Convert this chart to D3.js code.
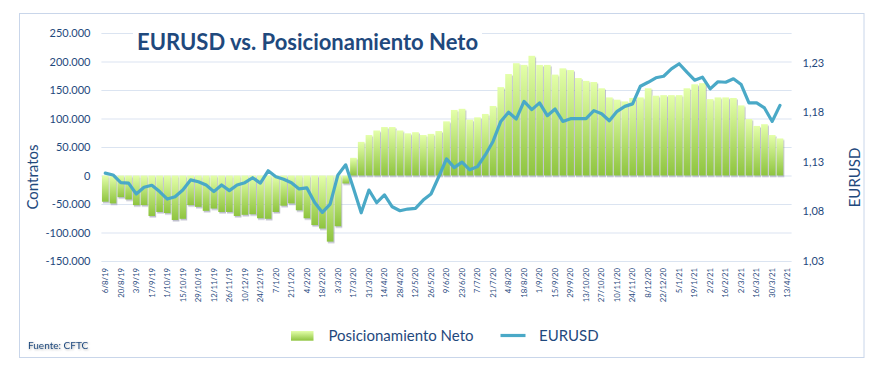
<!DOCTYPE html>
<html>
<head>
<meta charset="utf-8">
<script src="https://cdn.jsdelivr.net/npm/d3@7"></script>
<style>
  body { margin: 0; background: #fff; }
  text { font-family: Lato, "Open Sans", sans-serif; }
</style>
</head>
<body>
<svg id="chart" width="891" height="377"></svg>
<script>
// weekly COT dates (last one has no data)
const fechas = [
  "6/8/19","13/8/19","20/8/19","27/8/19","3/9/19","10/9/19","17/9/19","24/9/19","1/10/19","8/10/19",
  "15/10/19","22/10/19","29/10/19","5/11/19","12/11/19","19/11/19","26/11/19","3/12/19","10/12/19","17/12/19",
  "24/12/19","31/12/19","7/1/20","14/1/20","21/1/20","28/1/20","4/2/20","11/2/20","18/2/20","25/2/20",
  "3/3/20","10/3/20","17/3/20","24/3/20","31/3/20","7/4/20","14/4/20","21/4/20","28/4/20","5/5/20",
  "12/5/20","19/5/20","26/5/20","2/6/20","9/6/20","16/6/20","23/6/20","30/6/20","7/7/20","14/7/20",
  "21/7/20","28/7/20","4/8/20","11/8/20","18/8/20","25/8/20","1/9/20","8/9/20","15/9/20","22/9/20",
  "29/9/20","6/10/20","13/10/20","20/10/20","27/10/20","3/11/20","10/11/20","17/11/20","24/11/20","1/12/20",
  "8/12/20","15/12/20","22/12/20","29/12/20","5/1/21","12/1/21","19/1/21","26/1/21","2/2/21","9/2/21",
  "16/2/21","23/2/21","2/3/21","9/3/21","16/3/21","23/3/21","30/3/21","6/4/21","13/4/21"
];

const posicionamiento = [
  -46000, -49000, -38000, -42000, -52000, -52000, -71000, -64000, -66000, -78000,
  -76000, -52000, -55000, -62000, -58000, -64000, -64000, -71000, -69000, -68000,
  -75000, -76000, -64000, -53000, -49000, -61000, -75000, -87000, -93000, -116000,
  -89000, -14000, 31000, 59000, 71000, 79000, 85000, 85000, 79000, 74000,
  76000, 71000, 73000, 78000, 95000, 115000, 117000, 98000, 102000, 108000,
  122000, 155000, 178000, 197000, 194000, 210000, 194000, 194000, 177000, 188000,
  185000, 171000, 166000, 164000, 153000, 137000, 133000, 130000, 136000, 137000,
  153000, 140000, 141000, 141000, 141000, 153000, 160000, 162000, 134000, 137000,
  137000, 136000, 123000, 99000, 87000, 90000, 71000, 65000
];

const eurusd = [
  1.1186, 1.1168, 1.1090, 1.1085, 1.0976, 1.1044, 1.1064, 1.1000, 1.0925, 1.0948,
  1.1016, 1.1118, 1.1100, 1.1067, 1.1000, 1.1067, 1.1010, 1.1067, 1.1090, 1.1140,
  1.1085, 1.1210, 1.1150, 1.1125, 1.1090, 1.1027, 1.1037, 1.0890, 1.0790, 1.0874,
  1.1168, 1.1270, 1.1034, 1.0786, 1.1016, 1.0888, 1.0966, 1.0847, 1.0807, 1.0824,
  1.0831, 1.0915, 1.0976, 1.1150, 1.1330, 1.1242, 1.1297, 1.1220, 1.1252, 1.1370,
  1.1506, 1.1708, 1.1800, 1.1733, 1.1910, 1.1827, 1.1895, 1.1766, 1.1833, 1.1708,
  1.1736, 1.1736, 1.1736, 1.1817, 1.1786, 1.1715, 1.1810, 1.1860, 1.1885, 1.2063,
  1.2103, 1.2148, 1.2164, 1.2239, 1.2290, 1.2205, 1.2124, 1.2154, 1.2037, 1.2108,
  1.2103, 1.2138, 1.2080, 1.1895, 1.1895, 1.1844, 1.1708, 1.1870
];

const ticksContratos = [-150000, -100000, -50000, 0, 50000, 100000, 150000, 200000, 250000];
const ticksEurusd = [1.03, 1.08, 1.13, 1.18, 1.23];

const azul = "#1f497d";
const plotLeft = 101.4, plotRight = 791.6, plotTop = 33, plotBottom = 261;

const svg = d3.select("#chart");

const defs = svg.append("defs");
const grad = defs.append("linearGradient")
  .attr("id", "verde").attr("x1", 0).attr("y1", 0).attr("x2", 0).attr("y2", 1);
grad.append("stop").attr("offset", "0%").attr("stop-color", "#e4ffaa");
grad.append("stop").attr("offset", "100%").attr("stop-color", "#8ec43f");

defs.append("filter").attr("id", "sombra")
  .attr("x", "-20%").attr("y", "-20%").attr("width", "160%").attr("height", "160%")
  .append("feDropShadow")
  .attr("dx", 1).attr("dy", 1.5).attr("stdDeviation", 0.7)
  .attr("flood-color", "#6f6f90").attr("flood-opacity", 0.45);

defs.append("filter").attr("id", "sombraTexto")
  .append("feDropShadow")
  .attr("dx", 0.8).attr("dy", 0.8).attr("stdDeviation", 0.8)
  .attr("flood-color", "#000").attr("flood-opacity", 0.35);

// outer frame
svg.append("rect")
  .attr("x", 19.5).attr("y", 13.5).attr("width", 844.5).attr("height", 344)
  .attr("fill", "#fff").attr("stroke", "#c9d6ea").attr("stroke-width", 1);

const x = d3.scaleBand()
  .domain(fechas)
  .range([plotLeft, plotRight])
  .paddingInner(0.14)
  .paddingOuter(0.07);

const y = d3.scaleLinear().domain([-150000, 250000]).range([plotBottom, plotTop]);
const y2 = d3.scaleLinear().domain([1.03, 1.26]).range([plotBottom, plotTop]);

const loc = d3.formatLocale({ decimal: ",", thousands: ".", grouping: [3], currency: ["", "€"], minus: "-" });
const fmtContratos = loc.format(",d");
const fmtEurusd = loc.format(".2f");

// gridlines
const grid = svg.append("g")
  .attr("transform", `translate(${plotLeft},0)`)
  .call(d3.axisLeft(y).tickValues(ticksContratos).tickSize(-(plotRight - plotLeft)).tickFormat(""));
grid.select(".domain").remove();
grid.selectAll("line").attr("stroke", "#dbe4f1").attr("stroke-width", 1.2);

// bars
svg.append("g")
  .attr("filter", "url(#sombra)")
  .selectAll("rect")
  .data(posicionamiento)
  .join("rect")
  .attr("x", (d, i) => x(fechas[i]))
  .attr("width", x.bandwidth())
  .attr("y", d => y(Math.max(0, d)))
  .attr("height", d => Math.abs(y(d) - y(0)))
  .attr("fill", "url(#verde)");

// EURUSD line
const linea = d3.line()
  .x((d, i) => x(fechas[i]) + x.bandwidth() / 2)
  .y(d => y2(d));

svg.append("path")
  .datum(eurusd)
  .attr("d", linea)
  .attr("fill", "none")
  .attr("stroke", "#4aa9c7")
  .attr("stroke-width", 3.2)
  .attr("stroke-linejoin", "round")
  .attr("stroke-linecap", "round");

// axes
const ejeIzq = svg.append("g")
  .attr("transform", `translate(${plotLeft},0)`)
  .call(d3.axisLeft(y).tickValues(ticksContratos).tickFormat(fmtContratos).tickSize(0).tickPadding(11));
ejeIzq.select(".domain").remove();
ejeIzq.selectAll("text").attr("fill", azul).style("font-size", "11px");

const ejeDer = svg.append("g")
  .attr("transform", `translate(${plotRight},0)`)
  .call(d3.axisRight(y2).tickValues(ticksEurusd).tickFormat(fmtEurusd).tickSize(0).tickPadding(11));
ejeDer.select(".domain").remove();
ejeDer.selectAll("text").attr("fill", azul).style("font-size", "11px");

const ejeX = svg.append("g")
  .attr("transform", `translate(0,${plotBottom})`)
  .call(d3.axisBottom(x).tickValues(fechas.filter((d, i) => i % 2 === 0)).tickSize(0));
ejeX.select(".domain").remove();
ejeX.selectAll("text")
  .attr("fill", azul)
  .style("font-size", "7.8px")
  .style("text-anchor", "end")
  .attr("x", -7).attr("y", 0).attr("dy", "0.35em")
  .attr("transform", "rotate(-90)");

// axis titles
svg.append("text")
  .attr("transform", "translate(38,177) rotate(-90)")
  .attr("text-anchor", "middle")
  .attr("fill", azul).style("font-size", "15px")
  .text("Contratos");

svg.append("text")
  .attr("transform", "translate(860,177.5) rotate(-90)")
  .attr("text-anchor", "middle")
  .attr("fill", azul).style("font-size", "15px")
  .text("EURUSD");

// title
svg.append("rect").attr("x", 133).attr("y", 26).attr("width", 349).attr("height", 30).attr("fill", "#fff");
svg.append("text")
  .attr("x", 137).attr("y", 50)
  .attr("fill", azul)
  .style("font-size", "22px").style("font-weight", "bold")
  .text("EURUSD vs. Posicionamiento Neto");

// legend
const leyenda = svg.append("g");
leyenda.append("rect")
  .attr("x", 291).attr("y", 331).attr("width", 22.5).attr("height", 9.7)
  .attr("fill", "url(#verde)");
leyenda.append("text")
  .attr("x", 328.5).attr("y", 340.7)
  .attr("fill", azul).style("font-size", "15px")
  .text("Posicionamiento Neto");
leyenda.append("line")
  .attr("x1", 500.5).attr("x2", 525.5).attr("y1", 335.5).attr("y2", 335.5)
  .attr("stroke", "#4aa9c7").attr("stroke-width", 3.2);
leyenda.append("text")
  .attr("x", 539).attr("y", 340.7)
  .attr("fill", azul).style("font-size", "15px")
  .text("EURUSD");

// source
svg.append("text")
  .attr("x", 28).attr("y", 349)
  .attr("fill", azul).style("font-size", "10px")
  .attr("filter", "url(#sombraTexto)")
  .text("Fuente: CFTC");
</script>
</body>
</html>
